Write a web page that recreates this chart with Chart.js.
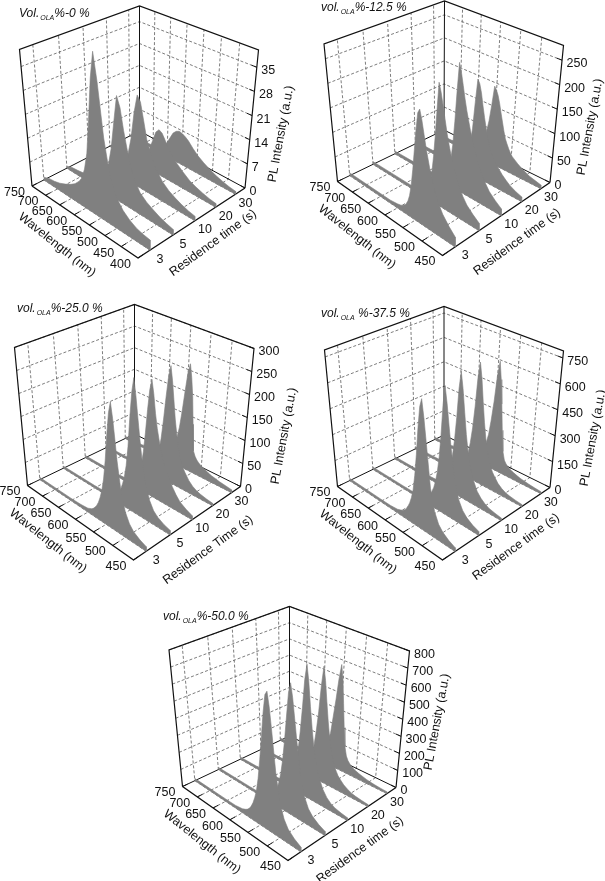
<!DOCTYPE html>
<html>
<head>
<meta charset="utf-8">
<style>
    html, body { margin: 0; padding: 0; background: #fff; }
    canvas { display: block; }
</style>
<script src="https://cdn.jsdelivr.net/npm/chart.js@4"></script>
</head>
<body>
<canvas id="chart" width="605" height="881"></canvas>
<script>
const residenceTimes = [3, 5, 10, 20, 30];
const wavelengthTicksWide = [750, 700, 650, 600, 550, 500, 450, 400];
const wavelengthTicks = [750, 700, 650, 600, 550, 500, 450];
const intensityTicks0 = [0, 7, 14, 21, 28, 35];
const intensityTicks12 = [0, 50, 100, 150, 200, 250];
const intensityTicks25 = [0, 50, 100, 150, 200, 250, 300];
const intensityTicks37 = [0, 150, 300, 450, 600, 750];
const intensityTicks50 = [0, 100, 200, 300, 400, 500, 600, 700, 800];

const wavelengthsWide = [750, 730, 710, 690, 670, 650, 635, 620, 610, 600, 590, 580, 570, 560, 550, 535, 520, 500, 480, 460, 440, 420, 400];
const wavelengths = [750, 700, 650, 620, 600, 590, 585, 580, 575, 570, 565, 560, 555, 550, 545, 540, 535, 530, 525, 520, 510, 500, 490, 480, 465, 450];

const ola0_3s = [0.8, 1.5, 1.7, 2.2, 3, 4, 5, 6.5, 8, 11, 16, 26, 38, 46, 38, 23, 14, 8.5, 6, 4.5, 3.5, 3, 2.7];
const ola0_5s = [0.6, 1.2, 1.4, 1.7, 2.2, 3, 3.8, 5, 6.5, 9, 14, 22, 30, 27, 21, 14, 9, 6, 4.5, 3.5, 2.6, 2, 1.5];
const ola0_10s = [0.4, 0.6, 0.8, 1, 1.5, 2, 3, 5, 8, 13, 21, 26.6, 25, 20, 15, 11, 8, 5.5, 4, 3, 2.2, 1.6, 1.2];
const ola0_20s = [0.4, 0.5, 0.6, 0.8, 1, 1.5, 2.5, 4, 6, 9, 12, 13.2, 12.6, 11, 9, 7.5, 6, 4.5, 3.2, 2.4, 1.8, 1.3, 1];
const ola0_30s = [0.4, 0.5, 0.6, 0.8, 1, 1.6, 2.5, 4, 6, 8, 9, 9.5, 9.2, 8.7, 8, 6.5, 5.2, 4, 3, 2.2, 1.6, 1.1, 0.8];

const ola12_3s = [6, 6, 6, 6, 8, 10, 12, 15, 19, 27, 40, 62, 95, 135, 175, 210, 219, 200, 175, 150, 110, 80, 60, 45, 30, 18];
const ola12_5s = [6, 6, 6, 6, 9, 13, 17, 24, 36, 55, 90, 135, 190, 243, 225, 200, 175, 150, 130, 112, 85, 62, 46, 34, 23, 14];
const ola12_10s = [6, 6, 6, 8, 14, 24, 34, 52, 85, 135, 200, 258, 240, 215, 190, 168, 150, 132, 118, 105, 80, 60, 45, 33, 22, 13];
const ola12_20s = [6, 6, 7, 10, 20, 38, 58, 95, 150, 200, 192, 175, 150, 128, 108, 90, 76, 66, 58, 52, 41, 32, 25, 19, 13, 9];
const ola12_30s = [6, 6, 8, 14, 40, 85, 120, 161, 155, 145, 130, 112, 95, 78, 64, 55, 47, 40, 35, 32, 26, 21, 17, 13, 10, 7];

const ola25_3s = [5, 5, 5, 6, 8, 12, 15, 20, 26, 35, 48, 65, 90, 130, 185, 232, 256, 225, 185, 143, 82, 50, 32, 22, 14, 9];
const ola25_5s = [5, 5, 5, 6, 8, 13, 17, 24, 32, 45, 62, 88, 130, 195, 250, 281, 245, 200, 158, 122, 70, 44, 28, 20, 13, 9];
const ola25_10s = [5, 5, 5, 7, 14, 26, 38, 55, 85, 128, 180, 225, 249, 220, 180, 150, 128, 108, 92, 80, 62, 45, 32, 22, 14, 8];
const ola25_20s = [5, 5, 6, 9, 28, 58, 85, 128, 180, 228, 253, 222, 182, 142, 112, 85, 68, 55, 45, 38, 26, 18, 13, 10, 7, 5];
const ola25_30s = [5, 5, 6, 12, 38, 85, 122, 168, 212, 234, 205, 165, 105, 48, 38, 32, 28, 25, 23, 21, 17, 14, 12, 10, 8, 6];

const ola37_3s = [14, 14, 14, 15, 20, 28, 34, 42, 55, 75, 100, 135, 185, 270, 390, 540, 660, 708, 610, 490, 250, 140, 85, 58, 35, 20];
const ola37_5s = [14, 14, 14, 15, 21, 30, 37, 46, 60, 82, 110, 150, 210, 300, 430, 600, 714, 620, 500, 390, 215, 125, 80, 55, 33, 20];
const ola37_10s = [14, 14, 15, 20, 42, 75, 105, 150, 215, 310, 440, 610, 715, 620, 490, 370, 280, 215, 170, 135, 85, 58, 40, 28, 20, 14];
const ola37_20s = [14, 14, 16, 26, 70, 145, 210, 300, 430, 600, 700, 610, 480, 365, 275, 210, 165, 130, 105, 88, 58, 40, 28, 22, 16, 12];
const ola37_30s = [14, 14, 17, 32, 90, 190, 280, 395, 550, 644, 540, 400, 250, 130, 85, 68, 58, 50, 45, 40, 32, 26, 22, 18, 14, 11];

const ola50_3s = [14, 14, 14, 15, 22, 32, 40, 52, 70, 95, 130, 175, 250, 360, 490, 630, 735, 758, 680, 570, 340, 190, 115, 75, 45, 25];
const ola50_5s = [14, 14, 14, 15, 23, 34, 43, 56, 76, 105, 145, 200, 285, 400, 540, 680, 738, 660, 550, 440, 250, 145, 90, 62, 38, 22];
const ola50_10s = [14, 14, 15, 20, 45, 85, 120, 170, 250, 360, 500, 670, 765, 670, 530, 410, 310, 240, 190, 150, 95, 62, 42, 30, 21, 15];
const ola50_20s = [14, 14, 16, 30, 85, 190, 280, 400, 560, 680, 600, 480, 370, 280, 215, 165, 130, 105, 85, 72, 50, 36, 26, 20, 15, 11];
const ola50_30s = [14, 15, 20, 50, 190, 400, 530, 623, 540, 400, 260, 150, 100, 78, 65, 55, 48, 42, 38, 34, 28, 22, 18, 15, 12, 10];

const timeSlots = [0.1, 0.3, 0.5, 0.7, 0.9];
const GREY = '#808080';
const FONT = '12.5px "Liberation Sans", Arial, sans-serif';

// corners in canvas pixels: left, front, right, back, on the floor and on the top of the box
const panels = [
    {
        titleHead: 'Vol.', titleTail: '%-0 %', titleAt: [19, 17], timeTitle: 'Residence time (s)',
        floor: [[32, 186], [138, 258], [245, 188], [139.5, 131]],
        top: [[19.5, 49.5], [138, 106], [258.5, 50], [139.5, 6]],
        lambda: wavelengthsWide, lambdaTicks: wavelengthTicksWide, zTicks: intensityTicks0, zMax: 40,
        series: [ola0_3s, ola0_5s, ola0_10s, ola0_20s, ola0_30s],
        zTitleAt: [281, 134], timeTitleAt: [213, 243], lambdaTitleAt: [57, 245]
    },
    {
        titleHead: 'vol.', titleTail: '%-12.5 %', titleAt: [321, 11], timeTitle: 'Residence time (s)',
        floor: [[337.5, 181.5], [442.5, 255.5], [550, 182.5], [444, 130]],
        top: [[324, 44], [442.5, 100], [563.5, 45.5], [444.5, 1]],
        lambda: wavelengths, lambdaTicks: wavelengthTicks, zTicks: intensityTicks12, zMax: 280,
        series: [ola12_3s, ola12_5s, ola12_10s, ola12_20s, ola12_30s],
        zTitleAt: [590, 127], timeTitleAt: [517, 242], lambdaTitleAt: [357, 237]
    },
    {
        titleHead: 'vol.', titleTail: '%-25.0 %', titleAt: [17, 312], timeTitle: 'Residence Time (s)',
        floor: [[27.5, 485.5], [133.5, 560], [240.5, 486.5], [134.5, 434]],
        top: [[14.5, 347.5], [133.5, 403], [254, 348.5], [134.5, 304.5]],
        lambda: wavelengths, lambdaTicks: wavelengthTicks, zTicks: intensityTicks25, zMax: 300,
        series: [ola25_3s, ola25_5s, ola25_10s, ola25_20s, ola25_30s],
        zTitleAt: [284, 436], timeTitleAt: [208, 550], lambdaTitleAt: [48, 541]
    },
    {
        titleHead: 'vol.', titleTail: ' %-37.5 %', titleAt: [321, 317], timeTitle: 'Residence time (s)',
        floor: [[337.5, 486.5], [442.5, 560], [550, 487.5], [444, 435]],
        top: [[324.5, 350], [442.5, 405], [563.5, 351], [444, 306.5]],
        lambda: wavelengths, lambdaTicks: wavelengthTicks, zTicks: intensityTicks37, zMax: 790,
        series: [ola37_3s, ola37_5s, ola37_10s, ola37_20s, ola37_30s],
        zTitleAt: [593, 438], timeTitleAt: [516, 547], lambdaTitleAt: [358, 542]
    },
    {
        titleHead: 'vol.', titleTail: '%-50.0 %', titleAt: [163, 620], timeTitle: 'Residence time (s)',
        floor: [[182.5, 786.5], [288, 860.5], [396, 787.5], [289.5, 736]],
        top: [[169, 650], [288, 705], [409.5, 651], [289.5, 606.5]],
        lambda: wavelengths, lambdaTicks: wavelengthTicks, zTicks: intensityTicks50, zMax: 800,
        series: [ola50_3s, ola50_5s, ola50_10s, ola50_20s, ola50_30s],
        zTitleAt: [437, 722], timeTitleAt: [360, 850], lambdaTitleAt: [202, 842]
    }
];

// unit square to quad, so the floor and lid keep their perspective
function quadMap(q) {
    const [p0, p1, p2, p3] = q;
    const dx1 = p1[0] - p2[0], dx2 = p3[0] - p2[0], sx = p0[0] - p1[0] + p2[0] - p3[0];
    const dy1 = p1[1] - p2[1], dy2 = p3[1] - p2[1], sy = p0[1] - p1[1] + p2[1] - p3[1];
    const den = dx1 * dy2 - dx2 * dy1;
    const g = (sx * dy2 - dx2 * sy) / den;
    const h = (dx1 * sy - sx * dy1) / den;
    return (u, v) => {
        const w = g * u + h * v + 1;
        return {
            x: ((p1[0] - p0[0] + g * p1[0]) * u + (p3[0] - p0[0] + h * p3[0]) * v + p0[0]) / w,
            y: ((p1[1] - p0[1] + g * p1[1]) * u + (p3[1] - p0[1] + h * p3[1]) * v + p0[1]) / w
        };
    };
}

function line(points, color, width, dash) {
    return {
        data: points,
        showLine: true,
        borderColor: color,
        borderWidth: width,
        borderDash: dash || [],
        pointRadius: 0,
        tension: 0,
        fill: false
    };
}

const back = [];   // drawn first
const labels = [];

panels.forEach((p) => {
    const floorAt = quadMap(p.floor);
    const topAt = quadMap(p.top);
    const project = (u, v, z) => {
        const a = floorAt(u, v);
        const b = topAt(u, v);
        const k = z / p.zMax;
        return { x: a.x + (b.x - a.x) * k, y: a.y + (b.y - a.y) * k };
    };
    const lambdaMax = p.lambdaTicks[0];
    const lambdaMin = p.lambdaTicks[p.lambdaTicks.length - 1];
    const toU = (nm) => (lambdaMax - nm) / (lambdaMax - lambdaMin);
    const gridDash = [3, 2];
    const gridColor = '#6e6e6e';

    // dashed grid on the two back walls and the floor
    p.zTicks.slice(1).forEach((z) => {
        back.push(line([project(0, 0, z), project(0, 1, z), project(1, 1, z)], gridColor, 0.9, gridDash));
    });
    timeSlots.forEach((v) => {
        back.push(line([project(1, v, 0), project(0, v, 0), project(0, v, p.zMax)], gridColor, 0.9, gridDash));
    });
    p.lambdaTicks.slice(1, -1).forEach((nm) => {
        const u = toU(nm);
        back.push(line([project(u, 0, 0), project(u, 1, 0), project(u, 1, p.zMax)], gridColor, 0.9, gridDash));
    });

    // box edges
    back.push(line([project(0, 0, 0), project(0, 0, p.zMax), project(0, 1, p.zMax), project(1, 1, p.zMax), project(1, 1, 0)], '#111', 1.2));
    back.push(line([project(0, 1, 0), project(0, 1, p.zMax)], '#111', 1));
    back.push(line([project(0, 0, 0), project(0, 1, 0), project(1, 1, 0)], '#111', 1));
    back.push(line([project(0, 0, 0), project(1, 0, 0), project(1, 1, 0)], '#111', 1.4));

    // short solid ticks
    p.lambdaTicks.forEach((nm) => {
        const u = toU(nm);
        back.push(line([project(u, 0, 0), project(u, 0.04, 0)], '#111', 1));
        labels.push({ text: String(nm), x: project(u, 0, 0).x - 17.5, y: project(u, 0, 0).y + 6.5, align: 'center' });
    });
    p.zTicks.forEach((z) => {
        back.push(line([project(1, 1, z), project(0.96, 1, z)], '#111', 1));
        const at = project(1, 1, z);
        labels.push({ text: String(z), x: at.x + 4.5, y: at.y + 3.5, align: 'left' });
    });
    residenceTimes.forEach((t, i) => {
        const at = project(1, timeSlots[i], 0);
        labels.push({ text: String(t), x: at.x + 10, y: at.y + 9, align: 'center' });
    });

    // the spectra, far wall first
    for (let i = p.series.length - 1; i >= 0; i--) {
        const v = timeSlots[i];
        const outline = p.lambda.map((nm, j) => project(toU(nm), v, p.series[i][j]));
        outline.push(project(1, v, 0), project(0, v, 0));
        back.push({
            data: outline,
            showLine: true,
            borderColor: GREY,
            borderWidth: 0.6,
            backgroundColor: GREY,
            pointRadius: 0,
            tension: 0,
            fill: 'shape'
        });
    }

    labels.push({ text: 'PL Intensity (a.u.)', x: p.zTitleAt[0], y: p.zTitleAt[1], align: 'center', angle: -79.5 });
    labels.push({ text: p.timeTitle, x: p.timeTitleAt[0], y: p.timeTitleAt[1], align: 'center', angle: -36 });
    labels.push({ text: 'Wavelength (nm)', x: p.lambdaTitleAt[0], y: p.lambdaTitleAt[1], align: 'center', angle: 38.5 });
});

// title with its small OLA subscript, and every axis text
const textPlugin = {
    id: 'boxText',
    afterDatasetsDraw(chart) {
        const ctx = chart.ctx;
        ctx.save();
        ctx.fillStyle = '#111';
        ctx.textBaseline = 'middle';
        labels.forEach((l) => {
            ctx.save();
            ctx.font = FONT;
            ctx.textAlign = l.align;
            ctx.translate(l.x, l.y);
            if (l.angle) ctx.rotate(l.angle * Math.PI / 180);
            ctx.fillText(l.text, 0, 0);
            ctx.restore();
        });
        ctx.textAlign = 'left';
        ctx.textBaseline = 'alphabetic';
        panels.forEach((p) => {
            let x = p.titleAt[0];
            const y = p.titleAt[1];
            ctx.font = 'italic 12px "Liberation Sans", Arial, sans-serif';
            ctx.fillText(p.titleHead, x, y);
            x += ctx.measureText(p.titleHead).width + 1;
            ctx.font = 'italic 7px "Liberation Sans", Arial, sans-serif';
            ctx.fillText('OLA', x, y + 3);
            x += ctx.measureText('OLA').width;
            ctx.font = 'italic 12px "Liberation Sans", Arial, sans-serif';
            ctx.fillText(p.titleTail, x, y);
        });
        ctx.restore();
    }
};

new Chart(document.getElementById('chart'), {
    type: 'scatter',
    data: { datasets: back.reverse() },   // index 0 is painted last
    options: {
        responsive: false,
        animation: false,
        layout: { padding: 0 },
        scales: {
            x: { type: 'linear', min: 0, max: 605, display: false },
            y: { type: 'linear', min: 0, max: 881, reverse: true, display: false }
        },
        plugins: {
            legend: { display: false },
            tooltip: { enabled: false }
        }
    },
    plugins: [textPlugin]
});
</script>
</body>
</html>
